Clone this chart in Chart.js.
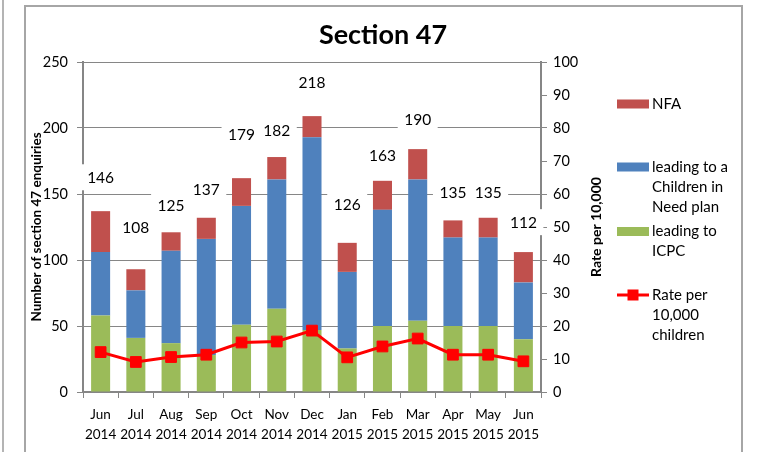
<!DOCTYPE html>
<html><head><meta charset="utf-8">
<script src="https://cdn.jsdelivr.net/npm/chart.js@4/dist/chart.umd.min.js"></script>
<style>
html,body{margin:0;padding:0;background:#fff;}
#wrap{position:relative;width:758px;height:452px;overflow:hidden;background:#fff;}
#frame{position:absolute;left:24px;top:5px;width:719px;height:470px;border:2px solid #a6a6a6;box-sizing:border-box;}
#lline{position:absolute;left:2px;top:0;width:2px;height:452px;background:#b4b4b4;}
canvas{position:absolute;left:0;top:0;}
</style></head>
<body><div id="wrap"><div id="lline"></div><div id="frame"></div><canvas id="c" width="758" height="452"></canvas></div>
<script>
const categories = [['Jun','2014'],['Jul','2014'],['Aug','2014'],['Sep','2014'],['Oct','2014'],['Nov','2014'],['Dec','2014'],['Jan','2015'],['Feb','2015'],['Mar','2015'],['Apr','2015'],['May','2015'],['Jun','2015']];
const icpc    = [58, 41, 37, 28, 51, 63, 47, 33, 50, 54, 50, 50, 40];
const cinPlan = [48, 36, 70, 88, 90, 98, 146, 58, 88, 107, 67, 67, 43];
const nfa     = [31, 16, 14, 16, 21, 17, 16, 22, 22, 23, 13, 15, 23];
const rate    = [12.1, 9.1, 10.6, 11.3, 15.0, 15.3, 18.6, 10.5, 13.8, 16.2, 11.3, 11.3, 9.3];
const totals  = [146, 108, 125, 137, 179, 182, 218, 126, 163, 190, 135, 135, 112];
const leftTicks = {min: 0, max: 250, step: 50};
const rightTicks = {min: 0, max: 100, step: 10};
const rightTitle = 'Rate per 10,000';

Chart.defaults.font.family = 'Lato';
Chart.defaults.color = '#000';

const AXIS = '#868686';

const totalsLabels = {
  id: 'totalsLabels',
  afterDatasetsDraw(chart) {
    const idx = chart.data.datasets.findIndex(d => d.label === '_totals');
    const meta = chart.getDatasetMeta(idx);
    const ctx = chart.ctx;
    ctx.save();
    ctx.font = '15.5px Lato';
    ctx.textAlign = 'center';
    ctx.textBaseline = 'middle';
    meta.data.forEach((pt, i) => {
      const txt = String(chart.data.datasets[idx].data[i]);
      const w = ctx.measureText(txt).width + 13;
      const cx = pt.x, cy = pt.y - 21;
      ctx.fillStyle = '#fff';
      ctx.fillRect(cx - w / 2, cy - 14, w, 26);
      ctx.fillStyle = '#000';
      ctx.fillText(txt, cx, cy);
    });
    ctx.restore();
  }
};

const sideLegend = {
  id: 'sideLegend',
  afterDraw(chart) {
    const ctx = chart.ctx;
    const y1 = chart.scales.y1;
    ctx.save();
    ctx.font = 'bold 14px Lato';
    ctx.textAlign = 'center';
    ctx.textBaseline = 'middle';
    ctx.fillStyle = '#000';
    ctx.translate(y1.left + 55, (y1.top + y1.bottom) / 2);
    ctx.rotate(-Math.PI / 2);
    ctx.fillText(rightTitle, 0, 0);
    ctx.restore();

    const order = [3, 2, 1, 0];
    const ys = [104, 167, 231.5, 295];
    const sx = 617, sw = 32, tx = 652, lh = 20, maxW = 86;
    ctx.save();
    ctx.font = '15px Lato';
    ctx.textBaseline = 'middle';
    ctx.textAlign = 'left';
    order.forEach((di, k) => {
      const ds = chart.data.datasets[di];
      const y = ys[k];
      if (ds.type === 'line') {
        ctx.strokeStyle = ds.borderColor; ctx.lineWidth = 3;
        ctx.beginPath(); ctx.moveTo(sx, y); ctx.lineTo(sx + sw, y); ctx.stroke();
        ctx.fillStyle = ds.borderColor;
        ctx.fillRect(sx + sw / 2 - 5.5, y - 5.5, 11, 11);
      } else {
        ctx.fillStyle = ds.backgroundColor;
        ctx.fillRect(sx, y - 4.5, sw, 9);
      }
      const words = ds.label.split(' ');
      const lines = []; let cur = '';
      words.forEach(w => {
        const t = cur ? cur + ' ' + w : w;
        if (ctx.measureText(t).width > maxW && cur) { lines.push(cur); cur = w; } else cur = t;
      });
      if (cur) lines.push(cur);
      ctx.fillStyle = '#000';
      lines.forEach((l, j) => ctx.fillText(l, tx, y + j * lh));
    });
    ctx.restore();
  }
};

new Chart(document.getElementById('c'), {
  type: 'bar',
  data: {
    labels: categories,
    datasets: [
      {type: 'line', label: 'Rate per 10,000 children', data: rate, yAxisID: 'y1',
       borderColor: '#FF0000', backgroundColor: '#FF0000', borderWidth: 3, tension: 0,
       pointStyle: 'rect', pointRadius: 7.6, pointHoverRadius: 7.6,
       pointBackgroundColor: '#FF0000', pointBorderColor: '#FF0000', pointBorderWidth: 1},
      {label: 'leading to ICPC', data: icpc, backgroundColor: '#9BBB59', yAxisID: 'y', stack: 's'},
      {label: 'leading to a Children in Need plan', data: cinPlan, backgroundColor: '#4F81BD', yAxisID: 'y', stack: 's'},
      {label: 'NFA', data: nfa, backgroundColor: '#C0504D', yAxisID: 'y', stack: 's'},
      {type: 'line', label: '_totals', data: totals, yAxisID: 'y', stack: 'totals',
       showLine: false, pointRadius: 0, pointHoverRadius: 0, borderWidth: 0}
    ]
  },
  options: {
    responsive: false,
    animation: false,
    events: [],
    barPercentage: 0.54,
    categoryPercentage: 1.0,
    layout: {padding: {left: 24, right: 16, top: 0, bottom: 0}},
    plugins: {
      legend: {display: false},
      tooltip: {enabled: false},
      title: {display: true, text: 'Section 47', color: '#000',
              font: {family: 'Lato', size: 27, weight: 'bold'}, padding: {top: 19, bottom: 10.6}}
    },
    scales: {
      x: {
        stacked: true, offset: true,
        grid: {offset: true, drawOnChartArea: false, drawTicks: true, tickLength: 6, color: AXIS},
        border: {color: AXIS, width: 1.5},
        ticks: {font: {size: 13.5, lineHeight: 1.45}, padding: 7, maxRotation: 0, autoSkip: false},
        afterFit: s => { s.height = 60; }
      },
      y: {
        stacked: true, min: leftTicks.min, max: leftTicks.max,
        ticks: {stepSize: leftTicks.step, font: {size: 14.5}, padding: 9},
        grid: {color: AXIS, tickLength: 6},
        border: {color: AXIS, width: 2},
        title: {display: true, text: 'Number of section 47 enquiries', font: {size: 13.5, weight: 'bold'}, padding: {top: 5, bottom: 0}},
        afterFit: s => { s.width = 59; }
      },
      y1: {
        position: 'right', min: rightTicks.min, max: rightTicks.max,
        ticks: {stepSize: rightTicks.step, font: {size: 14.5}, padding: 6},
        grid: {drawOnChartArea: false, tickLength: 6, color: AXIS},
        border: {color: AXIS, width: 2},
        afterFit: s => { s.width = 201; }
      }
    }
  },
  plugins: [totalsLabels, sideLegend]
});
</script>
</body></html>
